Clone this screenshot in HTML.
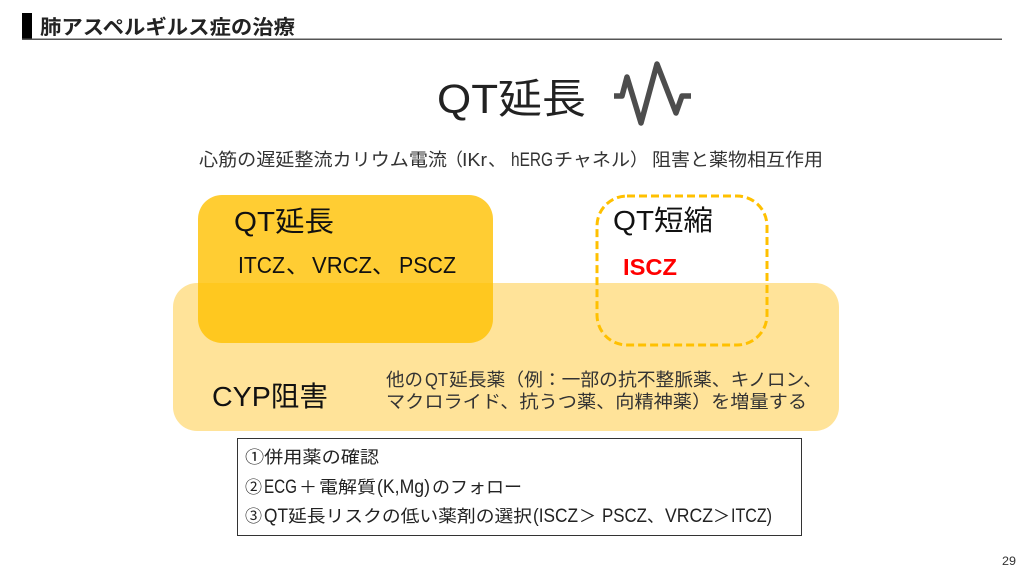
<!DOCTYPE html>
<html lang="ja">
<head>
<meta charset="utf-8">
<title>肺アスペルギルス症の治療</title>
<style>
html,body{margin:0;padding:0;background:#fff}
svg{display:block}
text{font-family:"Liberation Sans","Noto Sans CJK JP",sans-serif;fill:#111}
.s text{font-size:18px;fill:#333}
.b text{font-size:17px;fill:#222}
.b text.l{font-size:19px}
</style>
</head>
<body>
<svg width="1024" height="576" viewBox="0 0 1024 576" xmlns="http://www.w3.org/2000/svg">
<rect width="1024" height="576" fill="#fff"/>
<rect x="22" y="13" width="10" height="26" fill="#000"/>
<rect x="22" y="38.5" width="980" height="1.5" fill="#555"/>
<text x="40" y="34" font-size="20" font-weight="700" textLength="255" lengthAdjust="spacingAndGlyphs" style="fill:#222">肺アスペルギルス症の治療</text>

<text x="437" y="113" font-size="41" textLength="149" lengthAdjust="spacingAndGlyphs" style="fill:#222">QT延長</text>
<polyline points="614,96 622,96 627,77 641,123 657,64 676,113 682,96 691,96" fill="none" stroke="#4d4d4d" stroke-width="5.5" stroke-linejoin="round"/>

<text x="199" y="166" font-size="18" textLength="248" lengthAdjust="spacingAndGlyphs" style="fill:#333">心筋の遅延整流カリウム電流</text>
<text x="445" y="166" font-size="18" style="fill:#333">（</text>
<text x="462" y="166" font-size="18" textLength="25" lengthAdjust="spacingAndGlyphs" style="fill:#333">IKr</text>
<text x="488" y="166" font-size="18" style="fill:#333">、</text>
<text x="511" y="166" font-size="19" textLength="42" lengthAdjust="spacingAndGlyphs" style="fill:#333">hERG</text>
<text x="554" y="166" font-size="18" textLength="76" lengthAdjust="spacingAndGlyphs" style="fill:#333">チャネル</text>
<text x="630" y="166" font-size="18" style="fill:#333">）</text>
<text x="652" y="166" font-size="18" textLength="171" lengthAdjust="spacingAndGlyphs" style="fill:#333">阻害と薬物相互作用</text>

<rect x="173" y="283" width="666" height="148" rx="24" fill="#ffe399"/>
<rect x="198" y="195" width="295" height="148" rx="24" fill="#ffc000" fill-opacity="0.8"/>
<rect x="597" y="196" width="170" height="149" rx="30" fill="none" stroke="#ffc000" stroke-width="3" stroke-dasharray="8 4"/>

<text x="234" y="231" font-size="28" textLength="100" lengthAdjust="spacingAndGlyphs">QT延長</text>
<text x="238" y="273" font-size="23" textLength="47" lengthAdjust="spacingAndGlyphs">ITCZ</text>
<text x="286" y="273" font-size="23">、</text>
<text x="312" y="273" font-size="23" textLength="60" lengthAdjust="spacingAndGlyphs">VRCZ</text>
<text x="372" y="273" font-size="23">、</text>
<text x="399" y="273" font-size="23" textLength="57" lengthAdjust="spacingAndGlyphs">PSCZ</text>
<text x="613" y="230" font-size="28" textLength="100" lengthAdjust="spacingAndGlyphs">QT短縮</text>
<text x="623" y="275" font-size="23" font-weight="700" textLength="54" lengthAdjust="spacingAndGlyphs" style="fill:#ff0000">ISCZ</text>

<text x="212" y="406" font-size="28" textLength="116" lengthAdjust="spacingAndGlyphs">CYP阻害</text>
<g class="s">
<text x="386" y="386" textLength="37" lengthAdjust="spacingAndGlyphs">他の</text>
<text x="425" y="386" textLength="23" lengthAdjust="spacingAndGlyphs">QT</text>
<text x="449" y="386" textLength="373" lengthAdjust="spacingAndGlyphs">延長薬（例：一部の抗不整脈薬、キノロン、</text>
<text x="386" y="408" textLength="421" lengthAdjust="spacingAndGlyphs">マクロライド、抗うつ薬、向精神薬）を増量する</text>
</g>

<rect x="237.5" y="438.5" width="564" height="97" fill="#fff" stroke="#333" stroke-width="1"/>
<g class="b">
<text x="245" y="463" textLength="134" lengthAdjust="spacingAndGlyphs">①併用薬の確認</text>
<text x="245" y="493">②</text>
<text class="l" x="264" y="493" textLength="33" lengthAdjust="spacingAndGlyphs">ECG</text>
<text x="299" y="493" textLength="18" lengthAdjust="spacingAndGlyphs">＋</text>
<text x="319" y="493" textLength="57" lengthAdjust="spacingAndGlyphs">電解質</text>
<text class="l" x="377" y="493" textLength="53" lengthAdjust="spacingAndGlyphs">(K,Mg)</text>
<text x="432" y="493" textLength="90" lengthAdjust="spacingAndGlyphs">のフォロー</text>
<text x="245" y="522">③</text>
<text class="l" x="264" y="522" textLength="24" lengthAdjust="spacingAndGlyphs">QT</text>
<text x="288" y="522" textLength="244" lengthAdjust="spacingAndGlyphs">延長リスクの低い薬剤の選択</text>
<text class="l" x="533" y="522" textLength="45" lengthAdjust="spacingAndGlyphs">(ISCZ</text>
<text x="579" y="522" textLength="17" lengthAdjust="spacingAndGlyphs">＞</text>
<text class="l" x="602" y="522" textLength="45" lengthAdjust="spacingAndGlyphs">PSCZ</text>
<text x="647" y="522">、</text>
<text class="l" x="665" y="522" textLength="48" lengthAdjust="spacingAndGlyphs">VRCZ</text>
<text x="713" y="522" textLength="17" lengthAdjust="spacingAndGlyphs">＞</text>
<text class="l" x="731" y="522" textLength="41" lengthAdjust="spacingAndGlyphs">ITCZ)</text>
</g>

<text x="1002" y="565" font-size="12" textLength="14" lengthAdjust="spacingAndGlyphs" style="fill:#333">29</text>
</svg>
</body>
</html>
